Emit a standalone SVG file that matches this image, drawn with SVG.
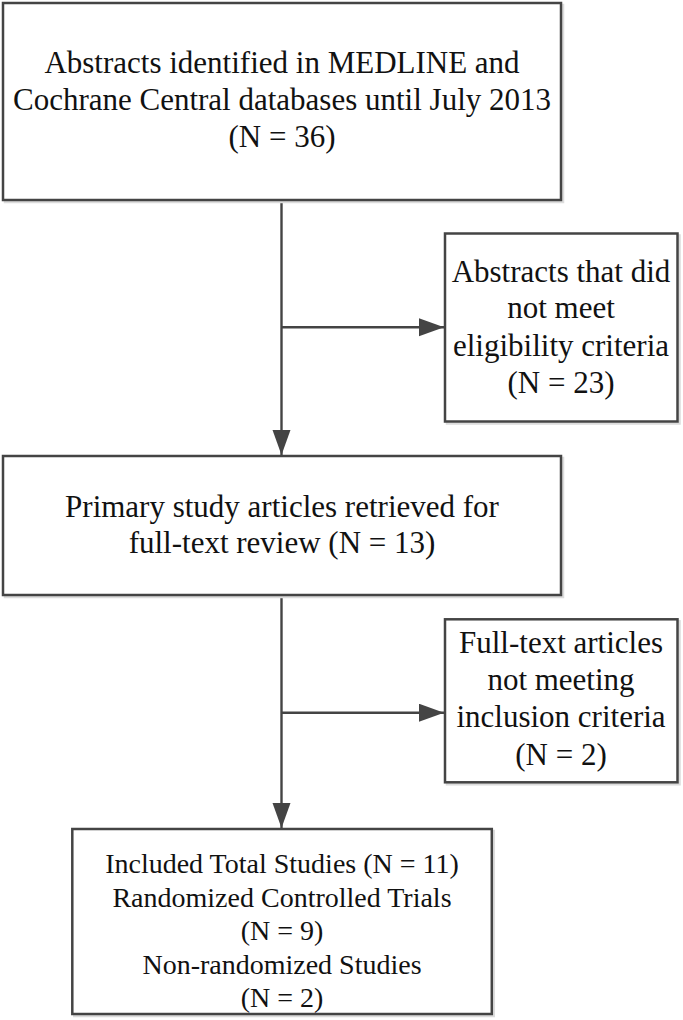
<svg xmlns="http://www.w3.org/2000/svg" width="683" height="1020" viewBox="0 0 683 1020">
<style>
.box{fill:#ffffff;stroke:#444444;stroke-width:2.5}
.shadow{fill:none;stroke:#dcdcdc;stroke-width:2.5}
.t{font-family:"Liberation Serif","Times New Roman",serif;font-size:31px;fill:#111111;text-anchor:middle}
.t5{font-family:"Liberation Serif","Times New Roman",serif;font-size:28px;fill:#111111;text-anchor:middle}
.conn{fill:none;stroke:#444444;stroke-width:2.4}
</style>
<defs>
<marker id="arr" markerUnits="userSpaceOnUse" markerWidth="26" markerHeight="19" refX="25" refY="9" orient="auto">
<path d="M0,0 L25,9 L0,18 z" fill="#444444"/>
</marker>
</defs>
<rect width="683" height="1020" fill="#ffffff"/>
<g id="connectors">
<path class="conn" d="M281.5 200 V455" marker-end="url(#arr)"/>
<path class="conn" d="M281.5 327.3 H444" marker-end="url(#arr)"/>
<path class="conn" d="M281.5 595 V828" marker-end="url(#arr)"/>
<path class="conn" d="M281.5 712.7 H444" marker-end="url(#arr)"/>
</g>
<g id="node-abstracts">
<rect class="shadow" x="5" y="5" width="558" height="197"/>
<rect class="box" x="3" y="3" width="558" height="197"/>
<text class="t" x="282" y="72.7">Abstracts identified in MEDLINE and</text>
<text class="t" x="282" y="110">Cochrane Central databases until July 2013</text>
<text class="t" x="282" y="146.7">(N = 36)</text>
</g>
<g id="node-excluded-abstracts">
<rect class="shadow" x="447" y="235.5" width="232.5" height="188"/>
<rect class="box" x="445" y="233.5" width="232.5" height="188"/>
<text class="t" x="561" y="281.7">Abstracts that did</text>
<text class="t" x="561" y="318.3">not meet</text>
<text class="t" x="561" y="355.7">eligibility criteria</text>
<text class="t" x="561" y="393.3">(N = 23)</text>
</g>
<g id="node-fulltext">
<rect class="shadow" x="5" y="458" width="558" height="139"/>
<rect class="box" x="3" y="456" width="558" height="139"/>
<text class="t" x="282" y="516.7">Primary study articles retrieved for</text>
<text class="t" x="282" y="553.3">full-text review (N = 13)</text>
</g>
<g id="node-excluded-fulltext">
<rect class="shadow" x="447" y="621.3" width="232.5" height="163"/>
<rect class="box" x="445" y="619.3" width="232.5" height="163"/>
<text class="t" x="561" y="653.3">Full-text articles</text>
<text class="t" x="561" y="690">not meeting</text>
<text class="t" x="561" y="727.3">inclusion criteria</text>
<text class="t" x="561" y="765">(N = 2)</text>
</g>
<g id="node-included">
<rect class="shadow" x="74.3" y="831" width="419.5" height="185"/>
<rect class="box" x="72.3" y="829" width="419.5" height="185"/>
<text class="t5" x="282" y="872.7">Included Total Studies (N = 11)</text>
<text class="t5" x="282" y="906.7">Randomized Controlled Trials</text>
<text class="t5" x="282" y="940">(N = 9)</text>
<text class="t5" x="282" y="974">Non-randomized Studies</text>
<text class="t5" x="282" y="1006.7">(N = 2)</text>
</g>
</svg>
